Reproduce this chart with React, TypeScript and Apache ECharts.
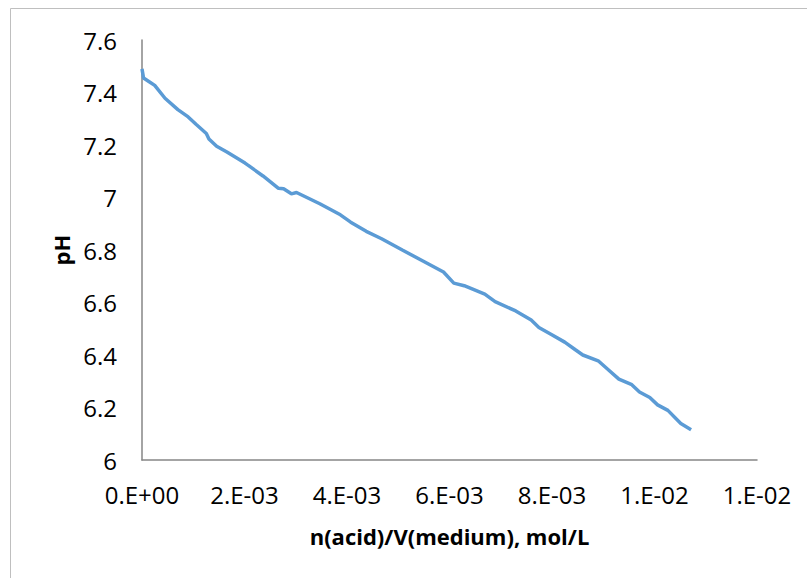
import React, { useEffect, useRef } from "react";
import * as echarts from "echarts";

const concentration = [
  0, 0.00003, 0.000148, 0.000248, 0.000449, 0.0007, 0.000901, 0.001054, 0.001255, 0.001306,
  0.001456, 0.001657, 0.00201, 0.00206, 0.002361, 0.002663, 0.002763, 0.002915, 0.003015,
  0.003469, 0.003871, 0.004072, 0.004375, 0.004675, 0.005079, 0.005481, 0.005883, 0.006084,
  0.006287, 0.006689, 0.00689, 0.007292, 0.007594, 0.007744, 0.007996, 0.008248, 0.008449,
  0.008601, 0.008901, 0.009104, 0.009305, 0.009557, 0.009707, 0.009908, 0.01006, 0.010261,
  0.010513, 0.010714,
];
const pH = [
  7.49, 7.455, 7.44, 7.427, 7.378, 7.335, 7.307, 7.279, 7.244, 7.223,
  7.195, 7.173, 7.131, 7.124, 7.082, 7.035, 7.033, 7.014, 7.019,
  6.976, 6.934, 6.906, 6.871, 6.843, 6.8, 6.758, 6.716, 6.674,
  6.664, 6.632, 6.603, 6.568, 6.533, 6.505, 6.477, 6.449, 6.421,
  6.4, 6.378, 6.343, 6.308, 6.287, 6.259, 6.238, 6.21, 6.189,
  6.139, 6.115,
];
const xTickLabels = ["0.E+00", "2.E-03", "4.E-03", "6.E-03", "8.E-03", "1.E-02", "1.E-02"];
const yTickLabels = ["6", "6.2", "6.4", "6.6", "6.8", "7", "7.2", "7.4", "7.6"];

const X_MIN = 0, X_MAX = 0.012, X_STEP = 0.002;
const Y_MIN = 6, Y_MAX = 7.6, Y_STEP = 0.2;

export default function App() {
  const ref = useRef<HTMLDivElement>(null);
  useEffect(() => {
    if (!ref.current) return;
    const chart = echarts.init(ref.current, null, { renderer: "svg" });
    const font = "'Open Sans', sans-serif";
    const axisLine = { show: true, lineStyle: { color: "#868686", width: 1.5 } };
    chart.setOption({
      animation: false,
      backgroundColor: "#ffffff",
      graphic: [
        {
          type: "rect",
          shape: { x: 10.5, y: 8.5, width: 900, height: 700 },
          style: { fill: "none", stroke: "#bfbfbf", lineWidth: 1 },
          silent: true,
        },
      ],
      grid: { left: 142, top: 40, right: 50, bottom: 118 },
      xAxis: {
        type: "value",
        min: X_MIN,
        max: X_MAX,
        interval: X_STEP,
        axisLine,
        axisTick: { show: false },
        splitLine: { show: false },
        axisLabel: {
          margin: 22,
          color: "#000000",
          fontFamily: font,
          fontSize: 24,
          formatter: (v: number) => xTickLabels[Math.round((v - X_MIN) / X_STEP)] ?? "",
        },
        name: "n(acid)/V(medium), mol/L",
        nameLocation: "middle",
        nameGap: 65,
        nameTextStyle: { color: "#000000", fontFamily: font, fontSize: 22, fontWeight: "bold" },
      },
      yAxis: {
        type: "value",
        min: Y_MIN,
        max: Y_MAX,
        interval: Y_STEP,
        axisLine,
        axisTick: { show: false },
        splitLine: { show: false },
        axisLabel: {
          margin: 25,
          color: "#000000",
          fontFamily: font,
          fontSize: 24,
          formatter: (v: number) => yTickLabels[Math.round((v - Y_MIN) / Y_STEP)] ?? "",
        },
        name: "pH",
        nameLocation: "middle",
        nameRotate: 90,
        nameGap: 67,
        nameTextStyle: { color: "#000000", fontFamily: font, fontSize: 22, fontWeight: "bold" },
      },
      series: [
        {
          type: "line",
          data: concentration.map((x, i) => [x, pH[i]]),
          showSymbol: false,
          symbol: "none",
          lineStyle: { color: "#5B9BD5", width: 3.5 },
          itemStyle: { color: "#5B9BD5" },
        },
      ],
    });
    return () => chart.dispose();
  }, []);
  return (
    <div
      ref={ref}
      style={{ position: "absolute", left: 0, top: 0, width: 807, height: 578 }}
    />
  );
}
